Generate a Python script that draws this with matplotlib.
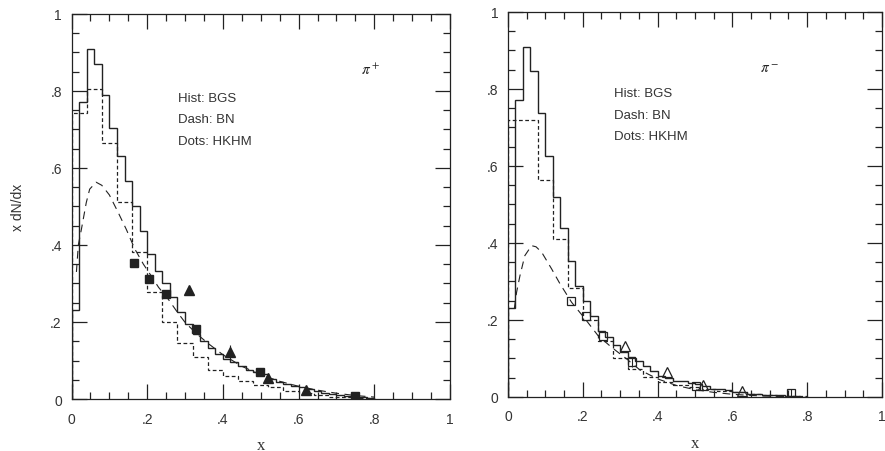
import numpy as np
import matplotlib
matplotlib.use("Agg")
import matplotlib.pyplot as plt
from matplotlib.ticker import MultipleLocator, FuncFormatter

plt.rcParams['font.family'] = ['Liberation Sans', 'DejaVu Sans']
plt.rcParams['mathtext.fontset'] = 'stix'

# ---- pi+ panel ----
# BGS histogram, bins of 0.02 starting at 0
bgs_plus = [0.23, 0.77, 0.91, 0.87, 0.79, 0.705, 0.63, 0.567, 0.502, 0.436,
            0.377, 0.333, 0.30, 0.264, 0.225, 0.195, 0.17, 0.15, 0.132, 0.117,
            0.104, 0.095, 0.085, 0.076, 0.070, 0.065, 0.052, 0.045, 0.039, 0.034,
            0.030, 0.026, 0.020, 0.016, 0.013, 0.010, 0.008, 0.006, 0.004, 0.002]
# BN histogram, bins of 0.04 starting at 0
bn_plus = [0.743, 0.805, 0.664, 0.511, 0.381, 0.279, 0.20, 0.145, 0.108, 0.076,
           0.059, 0.046, 0.037, 0.030, 0.022, 0.015, 0.010, 0.006, 0.004, 0.002]
# smooth long-dash curve
curve_x_plus = [0.013, 0.018, 0.026, 0.039, 0.048, 0.065, 0.08, 0.10, 0.123, 0.145,
                0.167, 0.19, 0.207, 0.23, 0.255, 0.28, 0.30, 0.33, 0.36, 0.40,
                0.45, 0.50, 0.55, 0.60, 0.65, 0.70, 0.75, 0.80]
curve_y_plus = [0.33, 0.40, 0.44, 0.51, 0.545, 0.563, 0.555, 0.53, 0.485, 0.44,
                0.39, 0.35, 0.325, 0.29, 0.26, 0.225, 0.199, 0.17, 0.145, 0.115,
                0.085, 0.063, 0.046, 0.033, 0.023, 0.015, 0.009, 0.005]
sq_x_plus = [0.165, 0.206, 0.25, 0.329, 0.498, 0.749]
sq_y_plus = [0.352, 0.312, 0.273, 0.182, 0.069, 0.007]
tri_x_plus = [0.31, 0.42, 0.52, 0.62]
tri_y_plus = [0.283, 0.121, 0.054, 0.023]
tri_err_plus = [0.0, 0.02, 0.0, 0.0]

# ---- pi- panel ----
bgs_minus = [0.23, 0.772, 0.908, 0.846, 0.737, 0.627, 0.519, 0.438, 0.354, 0.287,
             0.25, 0.211, 0.172, 0.155, 0.135, 0.118, 0.105, 0.094, 0.081, 0.068,
             0.055, 0.050, 0.042, 0.042, 0.036, 0.033, 0.029, 0.021, 0.021, 0.018,
             0.012, 0.012, 0.009, 0.008, 0.006, 0.005, 0.004, 0.003, 0.002, 0.001]
bn_minus = [0.718, 0.718, 0.564, 0.41, 0.282, 0.20, 0.145, 0.10, 0.073, 0.051,
            0.040, 0.032, 0.025, 0.020, 0.016, 0.012, 0.008, 0.005, 0.003, 0.002]
curve_x_minus = [0.017, 0.023, 0.032, 0.045, 0.063, 0.075, 0.09, 0.117, 0.139, 0.17,
                 0.206, 0.241, 0.277, 0.317, 0.353, 0.40, 0.45, 0.50, 0.55, 0.60,
                 0.65, 0.70, 0.75]
curve_y_minus = [0.23, 0.272, 0.315, 0.367, 0.393, 0.39, 0.376, 0.332, 0.294, 0.246,
                 0.203, 0.159, 0.129, 0.099, 0.07, 0.047, 0.03, 0.019, 0.012, 0.007,
                 0.004, 0.002, 0.001]
sq_x_minus = [0.168, 0.209, 0.253, 0.331, 0.503, 0.757]
sq_y_minus = [0.248, 0.21, 0.158, 0.09, 0.028, 0.01]
sq_err_minus = [0.0, 0.0, 0.0, 0.012, 0.0, 0.012]
tri_x_minus = [0.313, 0.424, 0.522, 0.625]
tri_y_minus = [0.133, 0.064, 0.032, 0.015]

legend_lines = ["Hist: BGS", "Dash: BN", "Dots: HKHM"]

ink = '#222222'
label_ink = '#333333'

fig = plt.figure(figsize=(8.85, 4.52), dpi=100)
ax1 = fig.add_axes([0.0808, 0.115, 0.4277, 0.852])
ax2 = fig.add_axes([0.574, 0.1195, 0.4226, 0.852])


def tick_fmt(v, pos):
    if abs(v) < 1e-9:
        return '0'
    if abs(v - 1) < 1e-9:
        return '1'
    return ('%.1f' % v).lstrip('0')


def draw_panel(ax, bgs, bn, cx, cy, sx, sy, tx, ty, filled, text_xy, pi_label, pi_xy):
    ax.stairs(bgs, np.arange(len(bgs) + 1) * 0.02, color=ink, lw=1.0)
    ax.stairs(bn, np.arange(len(bn) + 1) * 0.04, color=ink, lw=0.9, linestyle=(0, (3, 2)))
    ax.plot(cx, cy, color=ink, lw=0.8, linestyle=(0, (7, 5)))
    if filled:
        ax.plot(sx, sy, 's', ms=6.2, color=ink, mec=ink)
        ax.plot(tx, ty, '^', ms=6.8, color=ink, mec=ink)
    else:
        ax.plot(sx, sy, 's', ms=6.2, mfc='none', mec=ink, mew=0.9)
        ax.plot(tx, ty, '^', ms=6.8, mfc='none', mec=ink, mew=0.9)
    for i, s in enumerate(legend_lines):
        ax.text(text_xy[0], text_xy[1] - i * 0.056, s, fontsize=9.5, color=label_ink)
    ax.text(pi_xy[0], pi_xy[1], pi_label, fontsize=11, color=ink)
    ax.set_xlim(0, 1)
    ax.set_ylim(0, 1)
    ax.xaxis.set_major_locator(MultipleLocator(0.2))
    ax.xaxis.set_minor_locator(MultipleLocator(0.05))
    ax.yaxis.set_major_locator(MultipleLocator(0.2))
    ax.yaxis.set_minor_locator(MultipleLocator(0.05))
    ax.xaxis.set_major_formatter(FuncFormatter(tick_fmt))
    ax.yaxis.set_major_formatter(FuncFormatter(tick_fmt))
    ax.tick_params(which='both', direction='in', top=True, right=True, color=ink, width=0.9)
    ax.tick_params(which='major', length=11, labelsize=10, labelcolor=label_ink)
    ax.tick_params(which='minor', length=5)
    ax.tick_params(axis='x', which='major', pad=9)
    ax.tick_params(axis='y', which='major', pad=7)
    for sp in ax.spines.values():
        sp.set_color(ink)
        sp.set_linewidth(0.9)
    ax.set_xlabel('x', family='Liberation Serif', fontsize=12, color=label_ink, labelpad=8)


draw_panel(ax1, bgs_plus, bn_plus, curve_x_plus, curve_y_plus, sq_x_plus, sq_y_plus,
           tri_x_plus, tri_y_plus, True, (0.281, 0.775), r'$\pi^+$', (0.765, 0.845))
draw_panel(ax2, bgs_minus, bn_minus, curve_x_minus, curve_y_minus, sq_x_minus, sq_y_minus,
           tri_x_minus, tri_y_minus, False, (0.283, 0.781), r'$\pi^-$', (0.675, 0.845))

# small error bars on a few data points
ax1.errorbar(tri_x_plus, tri_y_plus, yerr=tri_err_plus, fmt='none', ecolor=ink, elinewidth=0.8)
ax2.errorbar(sq_x_minus, sq_y_minus, yerr=sq_err_minus, fmt='none', ecolor=ink, elinewidth=0.8)

ax1.set_ylabel('x dN/dx', fontsize=10, color=label_ink, labelpad=18)

fig.savefig('out.png', dpi=100)
